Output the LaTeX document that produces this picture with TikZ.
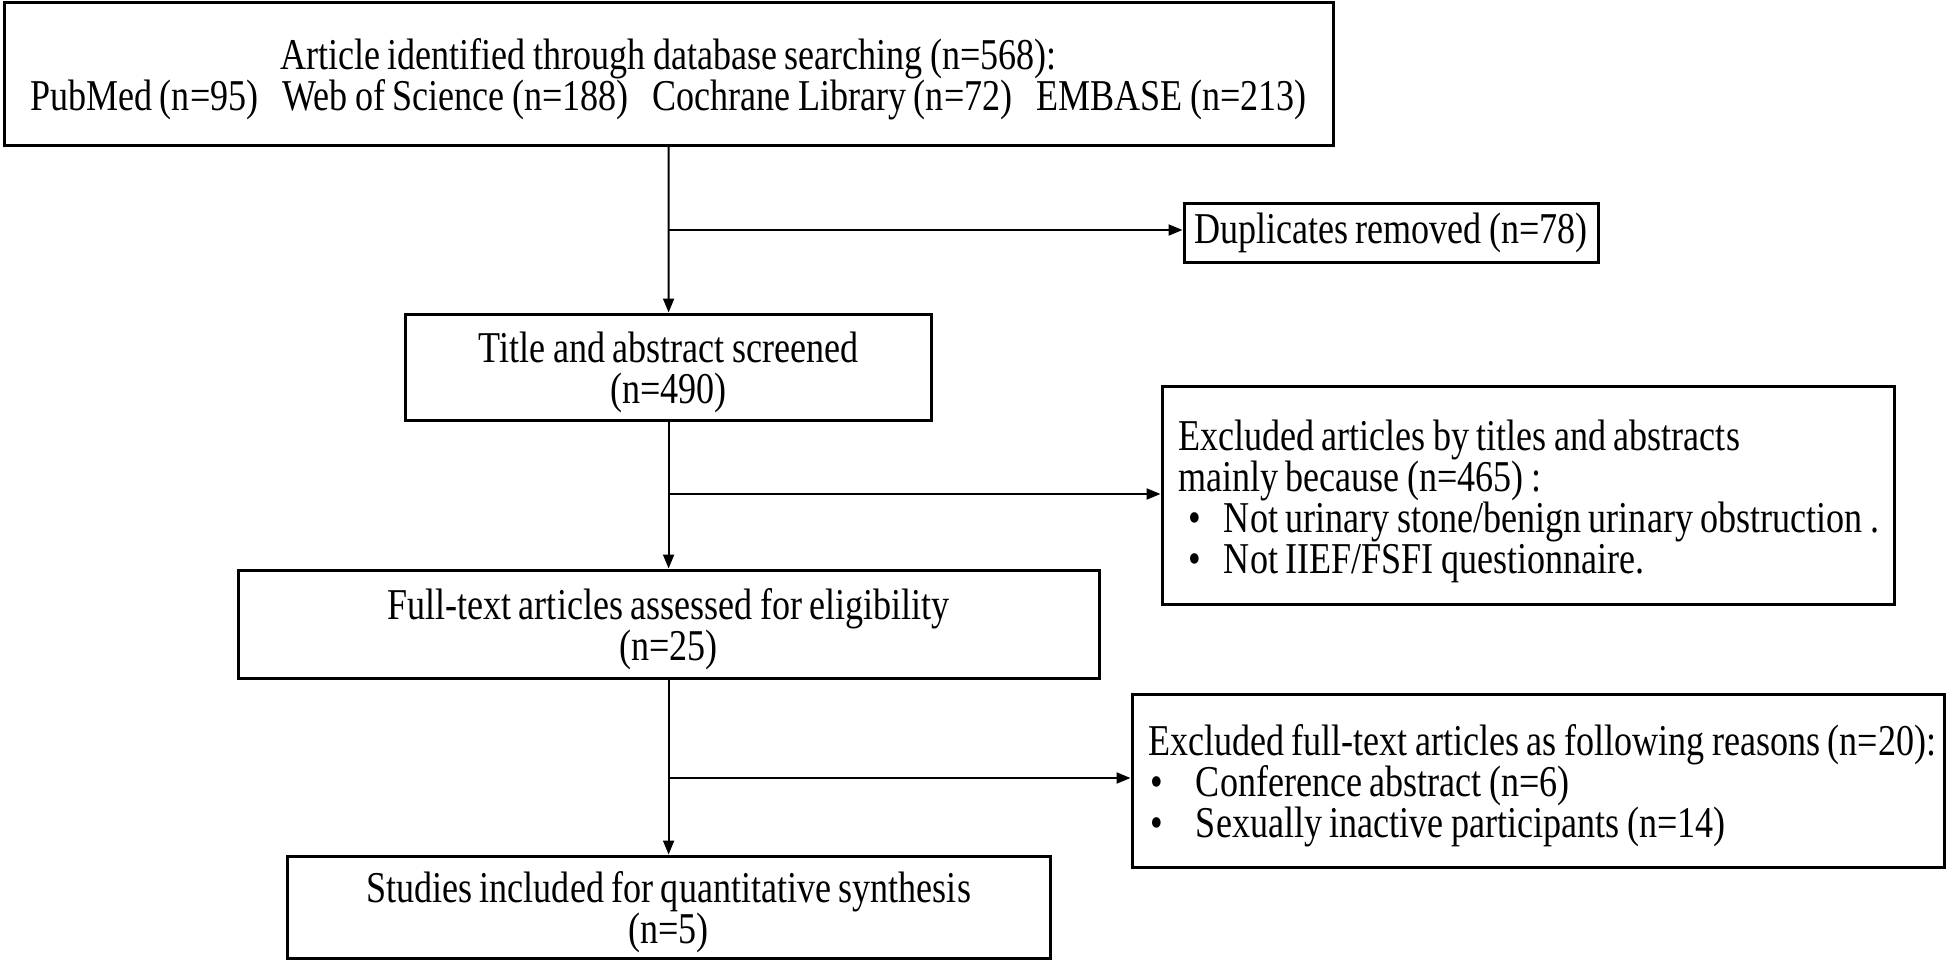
\documentclass[tikz,border=0pt]{standalone}
\usepackage{fontspec}
\setmainfont{Liberation Serif}[FakeStretch=0.82, WordSpace=0.82]
\usetikzlibrary{arrows.meta}
\newcommand{\bulA}{\hspace*{5pt}\makebox[18pt][l]{\textbullet}}
\newcommand{\bulB}{\hspace*{1pt}\makebox[23pt][l]{\textbullet}}
\newcommand{\fl}{\rule{0pt}{21pt}}
\newcommand{\nsp}{\spaceskip=0pt\xspaceskip=0pt\relax}
\begin{document}
\begin{tikzpicture}[x=1pt,y=1pt,
  every node/.style={font=\fontsize{22pt}{20.5pt}\selectfont},
  boxc/.style={draw, line width=1.5pt, align=center, inner sep=0pt},
  boxl/.style={draw, line width=1.5pt, align=left, inner xsep=8pt, inner ysep=0pt},
  arr/.style={line width=1pt, -{Triangle[length=7pt,width=5.5pt]}}]
\useasboundingbox (0,0) rectangle (974,-480);
\fill[white] (0,0) rectangle (974,-480);
\node[boxc, minimum width=664.5pt, minimum height=71.5pt] (top) at (334.25,-36.75)
  {\fl Article identified through database searching (n=568):\\
   PubMed (n=95)\hspace{12pt}Web of Science (n=188)\hspace{12pt}Cochrane Library (n=72)\hspace{12pt}EMBASE (n=213)};
\node[boxc, minimum width=207pt, minimum height=29.5pt] (dup) at (695.5,-116.25)
  {Duplicates removed (n=78)};
\node[boxc, minimum width=263pt, minimum height=53pt] (title) at (334.3,-183.5)
  {\fl Title and abstract screened\\(n=490)};
\node[boxl, text width=350pt, minimum height=109pt] (ex1) at (764,-247.5)
  {\nsp\mbox{\rule{0pt}{22pt}Excluded articles by titles and abstracts}\\
   \mbox{mainly because (n=465) :}\\
   \mbox{\bulA Not urinary stone/benign urinary obstruction .}\\
   \mbox{\bulA Not IIEF/FSFI questionnaire.}};
\node[boxc, minimum width=430.5pt, minimum height=54pt] (full) at (334.3,-312)
  {\fl Full-text articles assessed for eligibility\\(n=25)};
\node[boxl, text width=390pt, minimum height=86.5pt] (ex2) at (769,-390.25)
  {\nsp\mbox{\fl Excluded full-text articles as following reasons (n=20):}\\
   \mbox{\bulB Conference abstract (n=6)}\\
   \mbox{\bulB Sexually inactive participants (n=14)}};
\node[boxc, minimum width=381.5pt, minimum height=51pt] (stud) at (334.3,-453.5)
  {\fl Studies included for quantitative synthesis\\(n=5)};
\coordinate (j1) at (334.3,-115);
\coordinate (j2) at (334.3,-247);
\coordinate (j3) at (334.3,-389);
\draw[arr] (top.south) -- (title.north);
\draw[arr] (title.south) -- (full.north);
\draw[arr] (full.south) -- (stud.north);
\draw[arr] (j1) -- (j1 -| dup.west);
\draw[arr] (j2) -- (j2 -| ex1.west);
\draw[arr] (j3) -- (j3 -| ex2.west);
\end{tikzpicture}
\end{document}
